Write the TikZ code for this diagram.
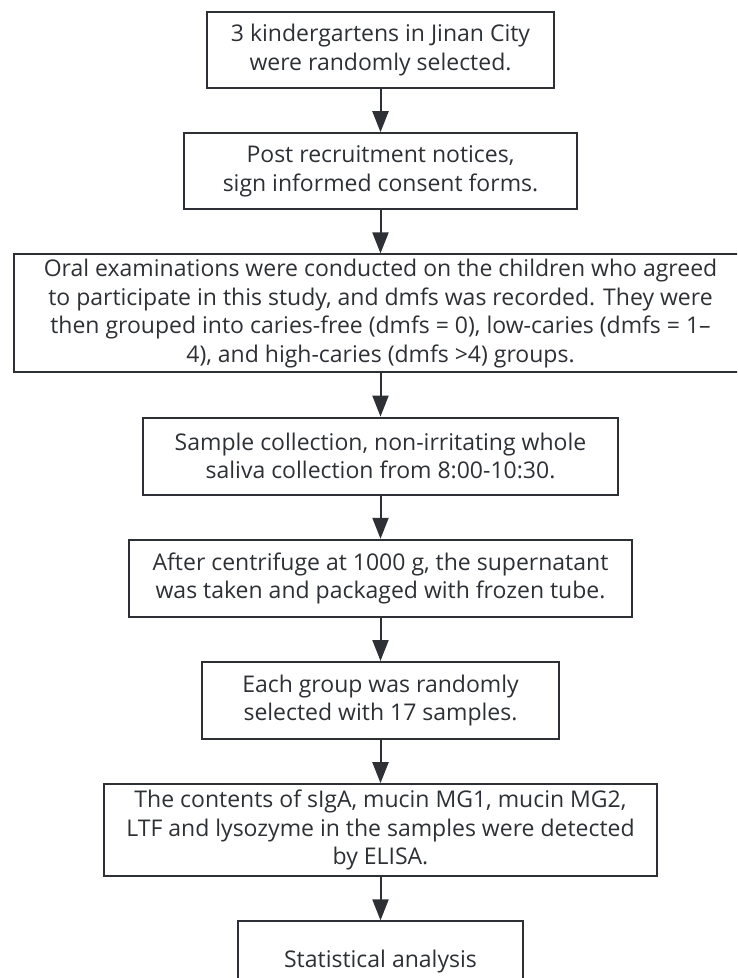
\documentclass[tikz,border=0pt]{standalone}
\usepackage{fontspec}
\setmainfont{Open Sans}
\usetikzlibrary{positioning,arrows.meta}
\definecolor{Ink}{RGB}{45,48,52}

\begin{document}
\begin{tikzpicture}[x=1pt,y=1pt,node distance=43.2pt,
  stepbox/.style={draw=Ink,line width=2pt,text=Ink,align=center,inner sep=4pt,font=\fontsize{23}{28.5}\selectfont},
  flow/.style={-{Triangle[length=21pt,width=16pt]},line width=2pt,Ink}]
\useasboundingbox (0,0) rectangle (737,-978);
\clip (0,0) rectangle (737,-978);
\node[stepbox,minimum width=347pt,minimum height=76pt] (select) at (380.5,-50) {3 kindergartens in Jinan City\\were randomly selected.};
\node[stepbox,minimum width=393pt,minimum height=76pt,below=of select] (recruit) {Post recruitment notices,\\sign informed consent forms.};
\node[stepbox,minimum width=733pt,minimum height=118pt,below=of recruit] (exam) {Oral examinations were conducted on the children who agreed\\to participate in this study, and dmfs was recorded. They were\\then grouped into caries-free (dmfs = 0), low-caries (dmfs = 1--\\4), and high-caries (dmfs >4) groups.};
\node[stepbox,minimum width=475pt,minimum height=77pt,below=of exam] (collect) {Sample collection, non-irritating whole\\saliva collection from 8:00-10:30.};
\node[stepbox,minimum width=503pt,minimum height=77pt,below=of collect] (centrifuge) {After centrifuge at 1000 g, the supernatant\\was taken and packaged with frozen tube.};
\node[stepbox,minimum width=357pt,minimum height=77pt,below=of centrifuge] (sampling) {Each group was randomly\\selected with 17 samples.};
\node[stepbox,minimum width=553pt,minimum height=92pt,below=of sampling] (elisa) {The contents of sIgA, mucin MG1, mucin MG2,\\LTF and lysozyme in the samples were detected\\by ELISA.};
\node[stepbox,minimum width=285pt,minimum height=80pt,below=of elisa] (stats) {Statistical analysis};
\draw[flow] (select)--(recruit); \draw[flow] (recruit)--(exam); \draw[flow] (exam)--(collect); \draw[flow] (collect)--(centrifuge); \draw[flow] (centrifuge)--(sampling); \draw[flow] (sampling)--(elisa); \draw[flow] (elisa)--(stats);
\end{tikzpicture}
\end{document}
